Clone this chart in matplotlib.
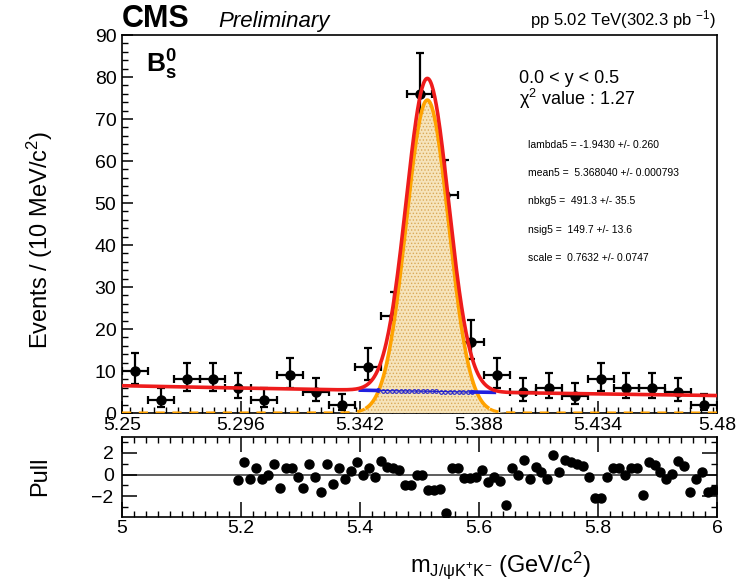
import numpy as np
import matplotlib
matplotlib.use('Agg')
import matplotlib.pyplot as plt
from matplotlib.ticker import MultipleLocator, FixedLocator

plt.rcParams['font.family'] = ['Liberation Sans', 'DejaVu Sans']
plt.rcParams['mathtext.fontset'] = 'custom'
plt.rcParams['mathtext.rm'] = 'Liberation Sans'
plt.rcParams['mathtext.it'] = 'Liberation Sans:italic'
plt.rcParams['mathtext.bf'] = 'Liberation Sans:bold'
plt.rcParams['hatch.linewidth'] = 0.6

# ---- data ----
mass = [5.255, 5.265, 5.275, 5.285, 5.295, 5.305, 5.315, 5.325, 5.335, 5.345,
        5.355, 5.365, 5.375, 5.385, 5.395, 5.405, 5.415, 5.425, 5.435, 5.445,
        5.455, 5.465, 5.475]
events = [10, 3, 8, 8, 6, 3, 9, 5, 2, 11, 23, 76, 52, 17, 9, 5, 6, 4, 8, 6, 6, 5, 2]
err_lo = [3.11, 1.63, 2.77, 2.77, 2.38, 1.63, 2.95, 2.16, 1.29, 3.26, 4.76, 8.71,
          7.19, 4.06, 2.95, 2.16, 2.38, 1.91, 2.77, 2.38, 2.38, 2.16, 1.29]
err_hi = [4.26, 2.92, 3.94, 3.94, 3.58, 2.92, 4.11, 3.38, 2.64, 4.41, 5.86, 9.76,
          8.26, 5.20, 4.11, 3.38, 3.58, 3.16, 3.94, 3.58, 3.58, 3.38, 2.64]
bin_half = 0.005

pull_mass = [5.195, 5.205, 5.215, 5.225, 5.235, 5.245, 5.255, 5.265, 5.275, 5.285,
             5.295, 5.305, 5.315, 5.325, 5.335, 5.345, 5.355, 5.365, 5.375, 5.385,
             5.395, 5.405, 5.415, 5.425, 5.435, 5.445, 5.455, 5.465, 5.475, 5.485,
             5.495, 5.505, 5.515, 5.525, 5.535, 5.545, 5.555, 5.565, 5.575, 5.585,
             5.595, 5.605, 5.615, 5.625, 5.635, 5.645, 5.655, 5.665, 5.675, 5.685,
             5.695, 5.705, 5.715, 5.725, 5.735, 5.745, 5.755, 5.765, 5.775, 5.785,
             5.795, 5.805, 5.815, 5.825, 5.835, 5.845, 5.855, 5.865, 5.875, 5.885,
             5.895, 5.905, 5.915, 5.925, 5.935, 5.945, 5.955, 5.965, 5.975, 5.985,
             5.995]
pull = [-0.53, 1.17, -0.37, 0.61, -0.40, -0.06, 1.02, -1.23, 0.62, 0.62,
        -0.22, -1.23, 1.02, -0.22, -1.60, 1.02, -0.83, 0.56, -0.43, 0.31,
        1.17, -0.06, 0.56, -0.22, 1.23, 0.71, 0.62, 0.40, -0.99, -0.99,
        -0.06, -0.06, -1.45, -1.45, -1.35, -3.60, 0.62, 0.62, -0.31, -0.31,
        -0.22, 0.40, -0.68, -0.22, -0.62, -2.84, 0.56, -0.06, 1.33, -0.37,
        0.71, 0.25, -0.37, 1.79, 0.25, 1.33, 1.17, 1.02, 0.80, -0.20,
        -2.16, -2.16, -0.22, 0.56, 0.62, -0.06, 0.62, 0.62, -1.93, 1.17,
        0.86, 0.25, -0.37, 0.09, 1.23, 0.80, -1.60, -0.37, 0.25, -1.60,
        -1.45]

top_xticks = [5.25, 5.296, 5.342, 5.388, 5.434, 5.48]
top_xlabels = ['5.25', '5.296', '5.342', '5.388', '5.434', '5.48']
pull_xticks = [5.0, 5.2, 5.4, 5.6, 5.8, 6.0]
pull_xlabels = ['5', '5.2', '5.4', '5.6', '5.8', '6']

# fit results shown on the plot
lambda5 = -1.9430
mean5 = 5.368040
bkg_at_lo = 6.5      # background level at 5.25 (events / bin)
sig_peak = 74.5      # signal peak height (events / bin)
sig_width = 0.0082

params = ['lambda5 = -1.9430 +/- 0.260',
          'mean5 =  5.368040 +/- 0.000793',
          'nbkg5 =  491.3 +/- 35.5',
          'nsig5 =  149.7 +/- 13.6',
          'scale =  0.7632 +/- 0.0747']

W, H = 753, 581


def fx(x):
    return x / W


def fy(y):
    return 1 - y / H


fig = plt.figure(figsize=(W / 100, H / 100), dpi=100)
ax = fig.add_axes([fx(122), fy(413), fx(717) - fx(122), fy(35) - fy(413)])
axp = fig.add_axes([fx(122), fy(516.7), fx(717) - fx(122), fy(436.7) - fy(516.7)])

# fit curves
m = np.linspace(5.25, 5.48, 800)
bkg = bkg_at_lo * np.exp(lambda5 * (m - 5.25))
sig = sig_peak * np.exp(-0.5 * ((m - mean5) / sig_width) ** 2)
tot = bkg + sig

ax.errorbar(mass, events, yerr=[err_lo, err_hi], xerr=bin_half, fmt='o', color='black',
            ms=6.5, elinewidth=1.6, capsize=3, capthick=1.6, zorder=2)

ax.fill_between(m, 0, sig, facecolor='#f6e4bb', edgecolor='#d9a95a', hatch='.....',
                linewidth=0, zorder=3)
core = np.abs(m - mean5) < 0.024
ax.plot(m[core], sig[core], color='#ffa200', lw=2.6, zorder=4, solid_capstyle='butt')
ax.plot(m[m <= mean5 - 0.024], sig[m <= mean5 - 0.024], color='#ffa200', lw=2.2,
        ls=(0, (3, 2.5)), zorder=4)
ax.plot(m[m >= mean5 + 0.024], sig[m >= mean5 + 0.024], color='#ffa200', lw=2.2,
        ls=(0, (3, 2.5)), zorder=4)

blue_sel = (m > 5.349) & (m < 5.386)
ax.plot(m[blue_sel], bkg[blue_sel], color='#2020d0', lw=0.8, marker='o', ms=2.6,
        mfc='none', mew=0.8, markevery=6, zorder=4)
for lo, hi in [(5.342, 5.349), (5.385, 5.394)]:
    s = (m >= lo) & (m <= hi)
    ax.plot(m[s], bkg[s], color='#2020e0', lw=2.6, zorder=4)

ax.plot(m, tot, color='#ee1c1c', lw=2.6, zorder=5)

ax.set_xlim(5.25, 5.48)
ax.set_ylim(0, 90)
ax.xaxis.set_major_locator(FixedLocator(top_xticks))
ax.set_xticklabels(top_xlabels)
ax.xaxis.set_minor_locator(MultipleLocator(0.0046))
ax.yaxis.set_major_locator(MultipleLocator(10))
ax.yaxis.set_minor_locator(MultipleLocator(2))
ax.tick_params(which='both', direction='in', top=False, right=False, labelsize=14)
ax.tick_params(axis='y', which='major', length=8, width=1.1, pad=4)
ax.tick_params(axis='y', which='minor', length=4, width=1.0)
ax.tick_params(axis='x', which='major', length=9, width=1.1, pad=3)
ax.tick_params(axis='x', which='minor', length=4.5, width=1.0)
for sp in ax.spines.values():
    sp.set_linewidth(1.2)

# pull panel
axp.axhline(0, color='#505050', lw=1.3, zorder=1)
axp.plot(pull_mass, pull, 'o', color='black', ms=6.5, zorder=2)
axp.set_xlim(5, 6)
axp.set_ylim(-3.9, 3.5)
axp.xaxis.set_major_locator(FixedLocator(pull_xticks))
axp.xaxis.set_minor_locator(MultipleLocator(0.02))
axp.yaxis.set_major_locator(FixedLocator([-2, 0, 2]))
axp.yaxis.set_minor_locator(FixedLocator([-3, -1, 1, 3]))
axp.set_xticklabels(pull_xlabels)
axp.set_yticklabels(['\u22122', '0', '2'])
axp.tick_params(which='both', direction='in', top=True, right=True, labelsize=14)
axp.tick_params(which='major', length=11, width=1.1)
axp.tick_params(axis='x', which='major', pad=2.5)
axp.tick_params(axis='y', which='major', pad=6)
axp.tick_params(which='minor', length=4.5, width=1.0)
for sp in axp.spines.values():
    sp.set_linewidth(1.2)

# texts
fig.text(fx(122), fy(27), 'CMS', fontsize=22, fontweight='bold', va='baseline')
fig.text(fx(218), fy(27), 'Preliminary', fontsize=16, fontstyle='italic', va='baseline')
fig.text(fx(716), fy(25), 'pp 5.02 TeV(302.3 pb $^{-1}$)', fontsize=12, ha='right',
         va='baseline')
fig.text(fx(146), fy(73), r'$\mathbf{B}_{\mathbf{s}}^{\mathbf{0}}$', fontsize=19,
         va='baseline')
fig.text(fx(519), fy(83), '0.0 < y < 0.5', fontsize=13, va='baseline')
fig.text(fx(519), fy(105), '\u03c7$^{2}$ value : 1.27', fontsize=13, va='baseline')
for i, t in enumerate(params):
    fig.text(fx(528), fy(148 + 28.2 * i), t, fontsize=7.5, va='baseline')

fig.text(fx(40), fy(240), 'Events / (10 MeV/c$^{2}$)', fontsize=17, rotation=90,
         ha='center', va='center')
fig.text(fx(40), fy(476), 'Pull', fontsize=17, rotation=90, ha='center', va='center')
fig.text(fx(500), fy(572), r'm$_{\mathrm{J/\psi K^{+}K^{-}}}$ (GeV/c$^{2}$)',
         fontsize=17, ha='center', va='baseline')

fig.savefig('out.png', dpi=100)
